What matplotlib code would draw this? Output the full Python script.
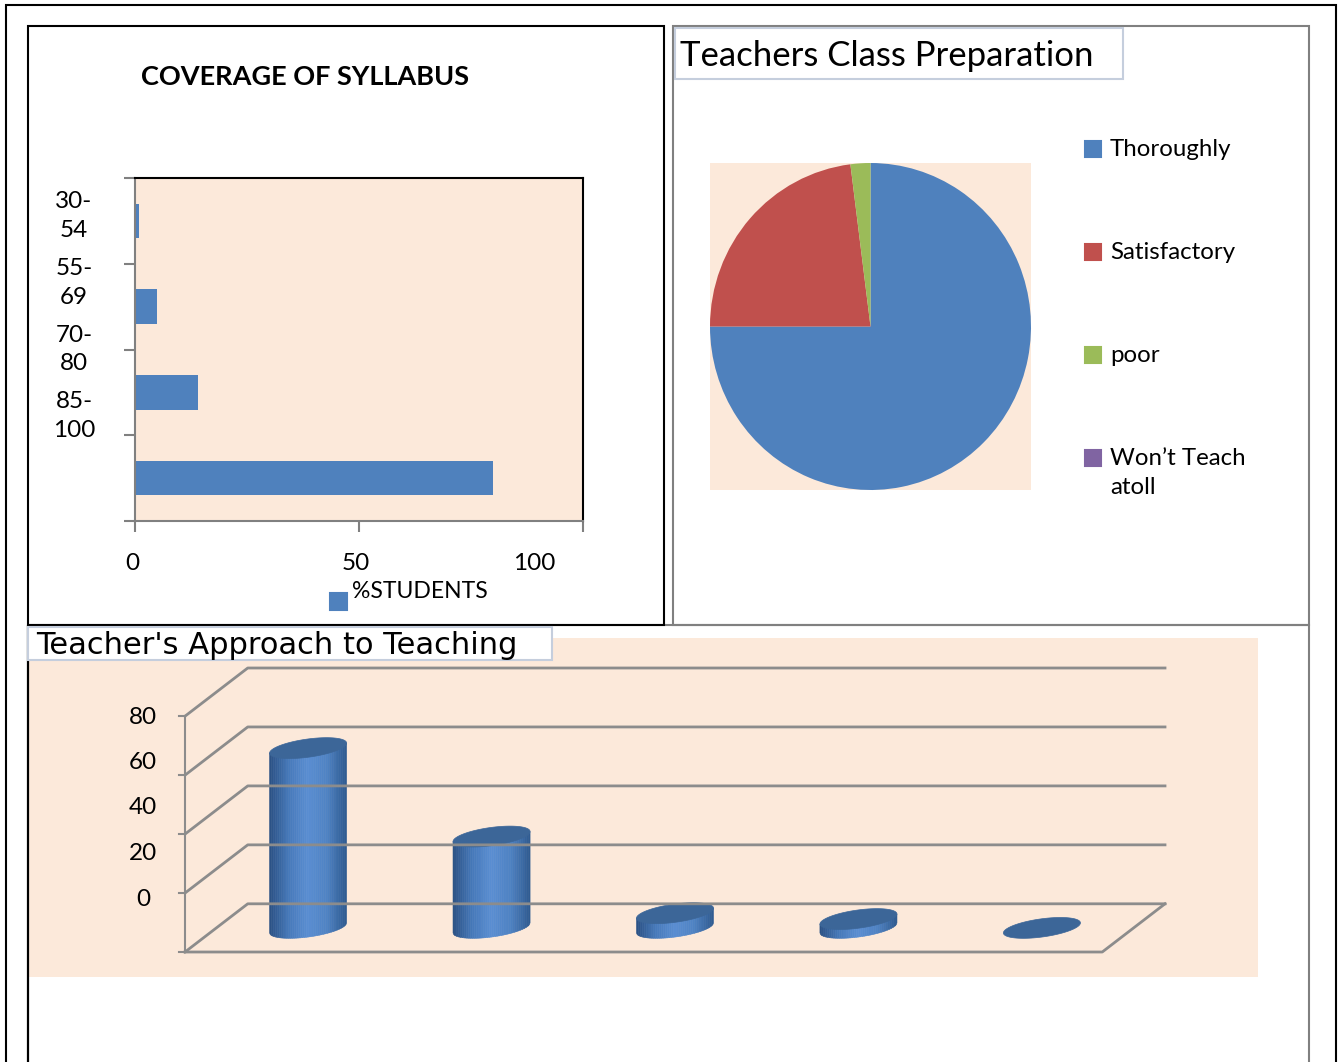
import matplotlib.pyplot as plt
from matplotlib.patches import Rectangle, Polygon
from matplotlib.colors import LinearSegmentedColormap
import numpy as np

plt.rcParams['font.family'] = ['Lato', 'DejaVu Sans']

W, H = 1339, 1062

# coverage of syllabus
cov_labels = ['30-\n54', '55-\n69', '70-\n80', '85-\n100']
cov_values = [1, 5, 14, 80]
cov_ticks = [0, 50, 100]

# teachers class preparation
prep_labels = ['Thoroughly', 'Satisfactory', 'poor', 'Won\u2019t Teach\natoll']
prep_values = [75, 23, 2, 0]
prep_colors = ['#4F81BD', '#C0504D', '#9BBB59', '#8064A2']

# teacher's approach to teaching
appr_values = [61, 31, 5, 3, 0]
appr_ticks = [0, 20, 40, 60, 80]

PEACH = '#FCE9DA'
BLUE = '#4F81BD'
GRAY = '#8C8C8C'


def fx(x):
    return x / W


def fy(y):
    return 1 - y / H


def box(x, y, w, h):
    # pixel box (top-left origin) -> figure fraction
    return [x / W, 1 - (y + h) / H, w / W, h / H]


def rect(x0, y0, x1, y1, ec='black', fc='none', lw=1.5, z=1):
    fig.add_artist(Rectangle((fx(x0), fy(y1)), fx(x1) - fx(x0), fy(y0) - fy(y1),
                             transform=fig.transFigure, fill=(fc != 'none'),
                             fc=fc, ec=ec, lw=lw, zorder=z))


fig = plt.figure(figsize=(W / 100, H / 100), dpi=100)

# frames
rect(6, 5, 1336, 1080, ec='black')
rect(28, 625, 1309, 1080, ec='#808080')
rect(673, 26, 1309, 625, ec='#808080')
rect(28, 26, 664, 625, ec='black')
rect(28, 625, 28, 1080, ec='black')

# ---------------- coverage of syllabus ----------------
fig.text(fx(305), fy(77), 'COVERAGE OF SYLLABUS', ha='center', va='center',
         fontsize=19.5, fontweight='bold')

ax1 = fig.add_axes(box(135, 178, 448, 343))
ypos = np.arange(len(cov_values))
ax1.barh(ypos, cov_values, height=0.4, color=BLUE)
ax1.set_xlim(0, 100)
ax1.set_ylim(len(cov_values) - 0.5, -0.5)
ax1.set_facecolor(PEACH)
ax1.set_yticks(np.arange(len(cov_values) + 1) - 0.5)
ax1.set_yticklabels([])
ax1.set_xticks(cov_ticks)
ax1.set_xticklabels([])
ax1.tick_params(direction='out', length=8, color='#808080', width=1.5)
for s in ['left', 'bottom']:
    ax1.spines[s].set_color('#808080')
    ax1.spines[s].set_linewidth(1.5)
for s in ['top', 'right']:
    ax1.spines[s].set_linewidth(1.5)

for i, lab in enumerate(cov_labels):
    fig.text(fx(74), fy(216 + 66.7 * i), lab, ha='center', va='center',
             fontsize=17.5, linespacing=1.45)
for t, shift in zip(cov_ticks, [-3, -3, -48]):
    fig.text(fx(135 + t * 4.47 + shift), fy(563), str(t), ha='center', va='center',
             fontsize=17.5)

rect(330, 593, 347, 610, ec=BLUE, fc=BLUE)
fig.text(fx(352), fy(592), '%STUDENTS', ha='left', va='center', fontsize=16.5)

# ---------------- class preparation pie ----------------
rect(675, 28, 1123, 79, ec='#C5CEDD', fc='white')
fig.text(fx(680), fy(56), 'Teachers Class Preparation', ha='left', va='center',
         fontsize=25)

ax2 = fig.add_axes(box(710, 163, 321, 327))
ax2.pie(prep_values, colors=prep_colors, startangle=90, counterclock=False,
        wedgeprops=dict(linewidth=0))
ax2.set_aspect('auto')
ax2.set_xlim(-1, 1)
ax2.set_ylim(-1, 1)
ax2.set_frame_on(True)
ax2.set_facecolor(PEACH)
for s in ax2.spines.values():
    s.set_visible(False)

for i, (lab, col) in enumerate(zip(prep_labels, prep_colors)):
    yc = 149 + 103 * i
    rect(1085, yc - 8, 1101, yc + 8, ec=col, fc=col)
    fig.text(fx(1110), fy(yc - 10), lab, ha='left', va='top', fontsize=17.3,
             linespacing=1.45)

# ---------------- approach to teaching (pseudo 3d) ----------------
rect(28, 638, 1258, 977, ec='none', fc=PEACH, lw=0, z=0)
rect(28, 627, 552, 660, ec='#C5CEDD', fc='white')
fig.text(fx(36), fy(646), 'Teacher\'s Approach to Teaching', ha='left', va='center',
         fontsize=22, family=['DejaVu Sans'])

DX, DY = 0.342, 16.35
n = len(appr_values)
ax3 = fig.add_axes(box(185, 668, 980, 284))
ax3.set_xlim(-0.5, n - 0.5 + DX)
ax3.set_ylim(0, appr_ticks[-1] + DY)
ax3.axis('off')

x0, x1 = -0.5, n - 0.5
for v in appr_ticks:
    ax3.plot([x0, x0 + DX, x1 + DX], [v, v + DY, v + DY], color=GRAY, lw=2,
             clip_on=False)
    ax3.plot([x0 - 0.035, x0], [v, v], color=GRAY, lw=1.5, clip_on=False)
ax3.plot([x0, x1, x1 + DX], [0, 0, DY], color=GRAY, lw=2, clip_on=False)
ax3.plot([x0, x0], [0, appr_ticks[-1]], color=GRAY, lw=1.5, clip_on=False)

for k, v in enumerate(appr_ticks[::-1]):
    fig.text(fx(143), fy(717 + 45.5 * k), str(v), ha='center', va='center',
             fontsize=17.5)

cyl = LinearSegmentedColormap.from_list(
    'cyl', ['#2A5083', '#4679BA', '#5A8ED2', '#4E82C3', '#2E5A90'])
a, b, s = 0.21, 3.1, 1.7
t = np.linspace(0, 2 * np.pi, 120)
nstrip = 40
edges = np.linspace(-1, 1, nstrip + 1)
for i, v in enumerate(appr_values):
    cx = i + DX / 2
    cb = DY / 2
    ct = cb + v
    if v > 0:
        for k in range(nstrip):
            u = np.linspace(edges[k], edges[k + 1], 4)
            xs = cx + a * u
            ylow = cb - b * np.sqrt(np.clip(1 - u ** 2, 0, 1)) + s * u
            ytop = ct + s * u
            pts = np.column_stack([np.r_[xs, xs[::-1]], np.r_[ylow, ytop[::-1]]])
            c = cyl((k + 0.5) / nstrip)
            ax3.add_patch(Polygon(pts, closed=True, fc=c, ec=c, lw=0.4))
    top = np.column_stack([cx + a * np.cos(t), ct + b * np.sin(t) + s * np.cos(t)])
    ax3.add_patch(Polygon(top, closed=True, fc='#3C6698', ec='#3C6698', lw=0.5))

fig.savefig('out.png', dpi=100)
